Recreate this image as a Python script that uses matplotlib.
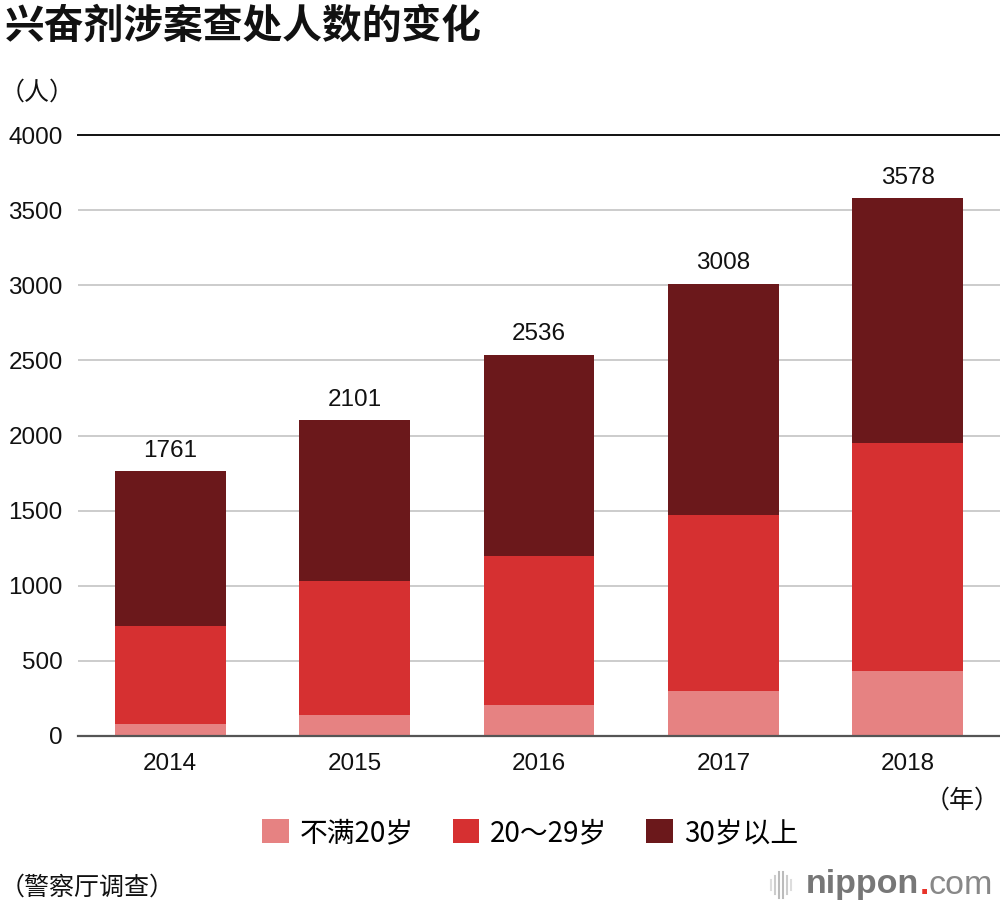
import matplotlib
matplotlib.use("Agg")
import matplotlib.pyplot as plt
from matplotlib.patches import Patch
import numpy as np

plt.rcParams['font.family'] = ['Liberation Sans', 'Noto Sans CJK SC', 'DejaVu Sans']

years = ["2014", "2015", "2016", "2017", "2018"]
under20 = [77, 143, 209, 298, 431]
age20s = [658, 890, 989, 1173, 1520]
age30plus = [1026, 1068, 1338, 1537, 1627]
totals = [1761, 2101, 2536, 3008, 3578]
series_names = ["不满20岁", "20～29岁", "30岁以上"]
colors = ["#e68282", "#d63031", "#6b181b"]
yticks = [0, 500, 1000, 1500, 2000, 2500, 3000, 3500, 4000]

title = "兴奋剂涉案查处人数的变化"
y_unit = "（人）"
x_unit = "（年）"
source = "（警察厅调查）"

W, H = 1000, 910
fig = plt.figure(figsize=(W / 100, H / 100), dpi=100)
ax = fig.add_axes([78 / W, 1 - 736 / H, 922 / W, 601 / H])

x = np.arange(len(years))
bottom = np.zeros(len(years))
for vals, name, c in zip([under20, age20s, age30plus], series_names, colors):
    ax.bar(x, vals, width=0.6, bottom=bottom, color=c, label=name, zorder=3, linewidth=0)
    bottom += np.array(vals)

for xi, t in zip(x, totals):
    ax.annotate(str(t), (xi, t), xytext=(0, 7), textcoords="offset points",
                ha="center", va="bottom", fontsize=17.5, color="#111111")

ax.set_xlim(-0.5, len(years) - 0.5)
ax.set_ylim(0, 4000)
ax.set_yticks(yticks)
ax.set_yticklabels([str(v) for v in yticks], fontsize=17.5, color="#111111")
ax.set_xticks(x)
ax.set_xticklabels(years, fontsize=17.5, color="#111111")
ax.tick_params(axis="y", length=0, pad=11)
ax.tick_params(axis="x", length=0, pad=12)

for v in yticks[1:-1]:
    ax.axhline(v, color="#c8c8c8", lw=1.3, zorder=1)
ax.axhline(4000, color="#111111", lw=1.4, zorder=4, clip_on=False)
for s in ["top", "right", "left"]:
    ax.spines[s].set_visible(False)
ax.spines["bottom"].set_color("#555555")
ax.spines["bottom"].set_linewidth(1.6)
ax.spines["bottom"].set_zorder(5)

cjk = ['Noto Sans CJK SC', 'DejaVu Sans']
fig.text(5 / W, 1 - 26 / H, title, fontsize=28.6, fontweight="bold", family=cjk,
         ha="left", va="center", color="#111111")
fig.text(0.0, 1 - 93 / H, y_unit, fontsize=18, family=cjk, ha="left", va="center", color="#111111")
fig.text(1.0, 1 - 801 / H, x_unit, fontsize=18, family=cjk, ha="right", va="center", color="#111111")
fig.text(0.0, 1 - 888 / H, source, fontsize=18, family=cjk, ha="left", va="center", color="#111111")

handles = [Patch(facecolor=c, edgecolor="none") for c in colors]
leg = fig.legend(handles, series_names, loc="center", bbox_to_anchor=(530 / W, 1 - 833 / H),
                 ncol=3, frameon=False, prop={'family': cjk, 'size': 20},
                 handlelength=0.95, handleheight=0.95, handletextpad=0.4,
                 columnspacing=1.4, borderaxespad=0, borderpad=0)

# nippon.com logo
logo_y = 1 - 885 / H
t1 = fig.text(806 / W, logo_y, "nippon", fontsize=24.5, fontweight="bold", color="#777777",
              ha="left", va="center", family=["Liberation Sans"])
fig.canvas.draw()
r = fig.canvas.get_renderer()
bb = t1.get_window_extent(r)
t2 = fig.text(bb.x1 / W, logo_y, ".", fontsize=24.5, fontweight="bold", color="#e8332a",
              ha="left", va="center", family=["Liberation Sans"])
bb2 = t2.get_window_extent(r)
fig.text(bb2.x1 / W, logo_y, "com", fontsize=24.5, color="#888888",
         ha="left", va="center", family=["Liberation Sans"])
bar_x = [771, 775, 779, 783, 787, 791]
bar_h = [10, 18, 26, 26, 18, 10]
bar_c = ["#dddddd", "#cccccc", "#bbbbbb", "#bbbbbb", "#cccccc", "#dddddd"]
for bx, bh, bc in zip(bar_x, bar_h, bar_c):
    fig.add_artist(plt.Line2D([bx / W, bx / W], [1 - (885 - bh / 2) / H, 1 - (885 + bh / 2) / H],
                              color=bc, lw=1.5, transform=fig.transFigure))

fig.savefig("out.png", dpi=100)
